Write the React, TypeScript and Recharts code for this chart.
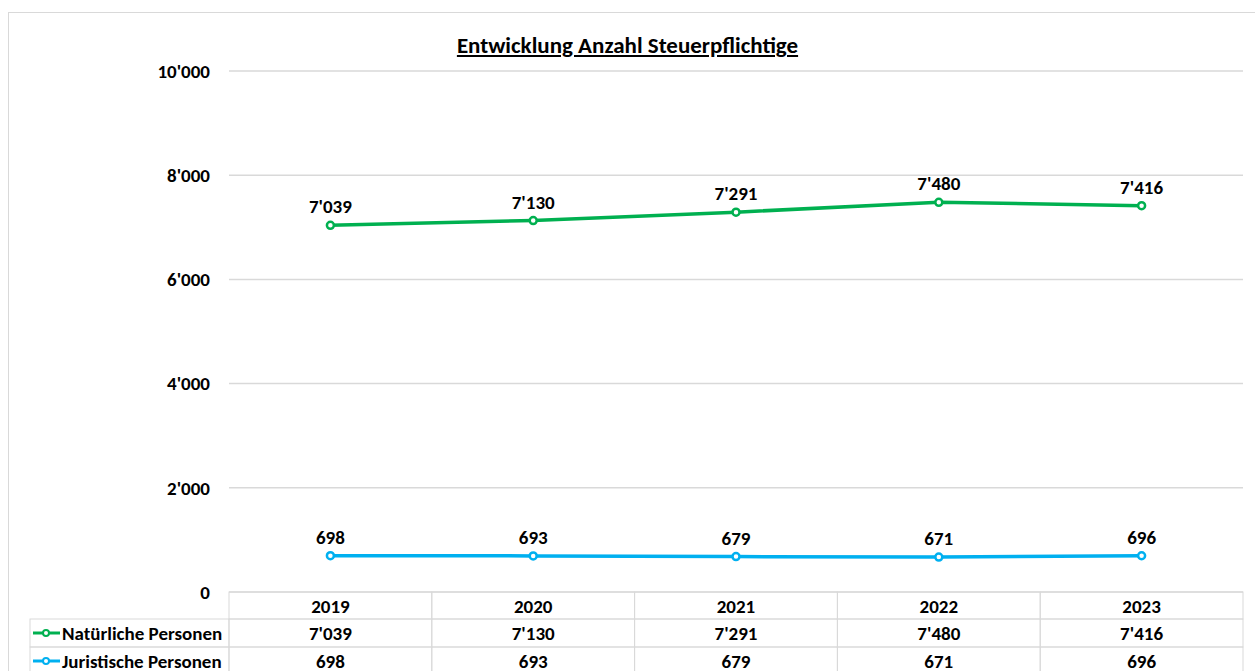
import { LineChart, Line, XAxis, YAxis, CartesianGrid, LabelList } from 'recharts';

const YEARS = ['2019', '2020', '2021', '2022', '2023'];
const NATUERLICHE = [7039, 7130, 7291, 7480, 7416];
const JURISTISCHE = [698, 693, 679, 671, 696];
const Y_TICKS = [0, 2000, 4000, 6000, 8000, 10000];

const SERIES = [
  { key: 'natuerlich', name: 'Natürliche Personen', color: '#00B050', values: NATUERLICHE },
  { key: 'juristisch', name: 'Juristische Personen', color: '#00B0F0', values: JURISTISCHE },
];

const data = YEARS.map((year, i) => ({
  year,
  natuerlich: NATUERLICHE[i],
  juristisch: JURISTISCHE[i],
}));

const FONT = 'Calibri, Carlito, Lato, "Open Sans", sans-serif';
const GRID = '#d9d9d9';
const FS = 19;

const W = 1255;
const H = 671;
const PLOT_LEFT = 229;
const PLOT_RIGHT = 1243;
const PLOT_TOP = 71;
const PLOT_BOTTOM = 592;
const Y_AXIS_W = 60;
const CELL_W = (PLOT_RIGHT - PLOT_LEFT) / YEARS.length;
const ROWS = [592, 619, 647, 675];
const LEGEND_LEFT = 30;

const fmt = (v: number) => String(v).replace(/\B(?=(\d{3})+(?!\d))/g, "'");

const textStyle = { fontFamily: FONT, fontWeight: 700, fontSize: FS, fill: '#000' };

const TableTick = (props: any) => {
  const { x, payload, index } = props;
  const i = YEARS.indexOf(payload.value);
  const left = x - CELL_W / 2;
  return (
    <g>
      {[0, 1, 2].map((r) => (
        <rect
          key={r}
          x={left}
          y={ROWS[r]}
          width={CELL_W}
          height={ROWS[r + 1] - ROWS[r]}
          fill="none"
          stroke={GRID}
          strokeWidth={1}
        />
      ))}
      <text x={x} y={ROWS[0] + 14} textAnchor="middle" dominantBaseline="central" style={textStyle}>
        {payload.value}
      </text>
      {SERIES.map((s, r) => (
        <text
          key={s.key}
          x={x}
          y={ROWS[r + 1] + 14}
          textAnchor="middle"
          dominantBaseline="central"
          style={textStyle}
        >
          {fmt(s.values[i])}
        </text>
      ))}
      {index === 0 &&
        SERIES.map((s, r) => (
          <g key={'leg-' + s.key}>
            <rect
              x={LEGEND_LEFT}
              y={ROWS[r + 1]}
              width={PLOT_LEFT - LEGEND_LEFT}
              height={ROWS[r + 2] - ROWS[r + 1]}
              fill="none"
              stroke={GRID}
            />
            <line
              x1={LEGEND_LEFT + 3}
              x2={LEGEND_LEFT + 30}
              y1={ROWS[r + 1] + 14}
              y2={ROWS[r + 1] + 14}
              stroke={s.color}
              strokeWidth={3}
            />
            <circle cx={LEGEND_LEFT + 16} cy={ROWS[r + 1] + 14} r={3} fill="#fff" stroke={s.color} strokeWidth={2} />
            <text
              x={LEGEND_LEFT + 32}
              y={ROWS[r + 1] + 14}
              dominantBaseline="central"
              style={textStyle}
            >
              {s.name}
            </text>
          </g>
        ))}
    </g>
  );
};

const App = () => {
  return (
    <div style={{ position: 'absolute', left: 0, top: 0, width: W, height: H, overflow: 'hidden', background: '#fff' }}>
      <div
        style={{
          position: 'absolute',
          left: 8,
          top: 12,
          width: W,
          height: H,
          border: `1px solid ${GRID}`,
        }}
      />
      <div
        style={{
          position: 'absolute',
          left: 0,
          top: 31,
          width: W,
          textAlign: 'center',
          fontFamily: FONT,
          fontWeight: 700,
          fontSize: 23,
          textDecoration: 'underline',
          color: '#000',
        }}
      >
        Entwicklung Anzahl Steuerpflichtige
      </div>
      <div style={{ position: 'absolute', left: 0, top: 0 }}>
        <LineChart
          width={W}
          height={H}
          data={data}
          margin={{
            top: PLOT_TOP,
            bottom: 0,
            left: PLOT_LEFT - Y_AXIS_W,
            right: W - PLOT_RIGHT,
          }}
        >
          <CartesianGrid vertical={false} stroke={GRID} strokeWidth={1.5} />
          <XAxis
            dataKey="year"
            axisLine={false}
            tickLine={false}
            tickSize={0}
            height={H - PLOT_BOTTOM}
            padding={{ left: CELL_W / 2, right: CELL_W / 2 }}
            interval={0}
            tick={<TableTick />}
          />
          <YAxis
            width={Y_AXIS_W}
            domain={[0, 10000]}
            ticks={Y_TICKS}
            axisLine={false}
            tickLine={false}
            tickSize={0}
            tickMargin={19}
            tickFormatter={fmt}
            tick={textStyle}
          />
          {SERIES.map((s) => (
            <Line
              key={s.key}
              dataKey={s.key}
              name={s.name}
              stroke={s.color}
              strokeWidth={3.5}
              dot={{ r: 3.5, fill: '#fff', stroke: s.color, strokeWidth: 2.5 }}
              activeDot={false}
              isAnimationActive={false}
            >
              <LabelList
                dataKey={s.key}
                position="top"
                offset={12}
                formatter={(v: any) => fmt(Number(v))}
                style={textStyle}
              />
            </Line>
          ))}
        </LineChart>
      </div>
    </div>
  );
};

export default App;
